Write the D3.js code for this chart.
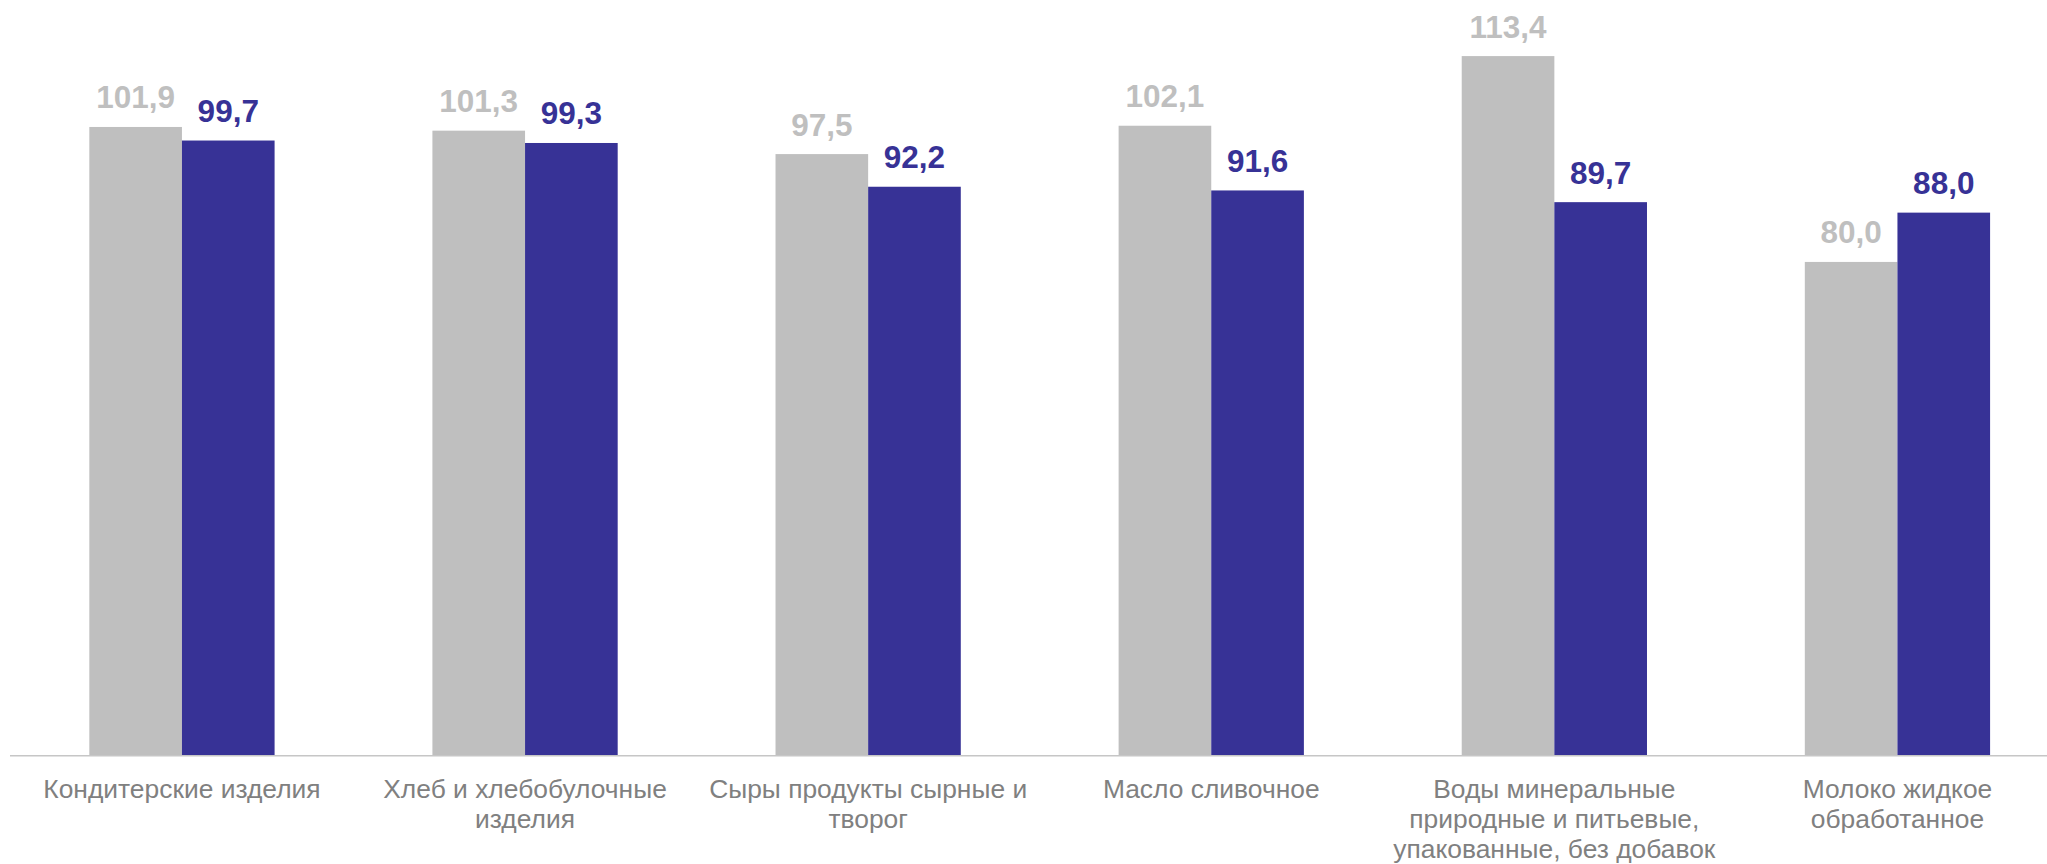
<!DOCTYPE html>
<html>
<head>
<meta charset="utf-8">
<script src="https://cdn.jsdelivr.net/npm/d3@7"></script>
<style>
    body { margin: 0; background: #ffffff; }
    .value-label { font-family: "Liberation Sans", Arial, sans-serif; font-size: 31.5px; font-weight: bold; }
    .category-label { font-family: "Liberation Sans", Arial, sans-serif; font-size: 26.4px; fill: #808080; }
</style>
</head>
<body>
<script>
// Chart data
const categories = [
    "Кондитерские изделия",
    "Хлеб и хлебобулочные изделия",
    "Сыры продукты сырные и творог",
    "Масло сливочное",
    "Воды минеральные природные и питьевые, упакованные, без добавок",
    "Молоко жидкое обработанное"
];

// Category labels split into lines as in the picture
const categoryLines = [
    ["Кондитерские изделия"],
    ["Хлеб и хлебобулочные", "изделия"],
    ["Сыры продукты сырные и", "творог"],
    ["Масло сливочное"],
    ["Воды минеральные", "природные и питьевые,", "упакованные, без добавок"],
    ["Молоко жидкое", "обработанное"]
];

const seriesKeys = ["first", "second"];
const firstValues = [101.9, 101.3, 97.5, 102.1, 113.4, 80.0];
const secondValues = [99.7, 99.3, 92.2, 91.6, 89.7, 88.0];

// Set chart dimensions
const width = 2047;
const height = 864;
const plot = { left: 10.4, right: 2069, top: 0, bottom: 755 };

const data = categories.map((c, i) => ({
    category: c,
    lines: categoryLines[i],
    first: firstValues[i],
    second: secondValues[i]
}));

const svg = d3.select("body")
    .append("svg")
    .attr("width", width)
    .attr("height", height);

// Scales
const xScale = d3.scaleBand()
    .domain(categories)
    .range([plot.left, plot.right])
    .paddingInner(0.46)
    .paddingOuter(0.23);

const xSub = d3.scaleBand()
    .domain(seriesKeys)
    .range([0, xScale.bandwidth()]);

const yScale = d3.scaleLinear()
    .domain([0, 122.5])
    .range([plot.bottom, plot.top]);

const colorScale = d3.scaleOrdinal()
    .domain(seriesKeys)
    .range(["#bfbfbf", "#373296"]);

// Draw bars
const groups = svg.append("g")
    .selectAll("g")
    .data(data)
    .join("g")
    .attr("transform", d => `translate(${xScale(d.category)}, 0)`);

groups.selectAll("rect")
    .data(d => seriesKeys.map(k => ({ key: k, value: d[k] })))
    .join("rect")
    .attr("x", d => xSub(d.key))
    .attr("y", d => yScale(d.value))
    .attr("width", xSub.bandwidth())
    .attr("height", d => yScale(0) - yScale(d.value))
    .attr("fill", d => colorScale(d.key));

// Value labels
const fmt = v => d3.format(".1f")(v).replace(".", ",");

groups.selectAll("text.value-label")
    .data(d => seriesKeys.map(k => ({ key: k, value: d[k] })))
    .join("text")
    .attr("class", "value-label")
    .attr("x", d => xSub(d.key) + xSub.bandwidth() / 2)
    .attr("y", d => yScale(d.value) - 18.5)
    .attr("text-anchor", "middle")
    .attr("fill", d => colorScale(d.key))
    .text(d => fmt(d.value));

// Baseline axis
const bottomAxis = d3.axisBottom(xScale)
    .tickSize(0)
    .tickFormat("");

const axisG = svg.append("g")
    .attr("transform", `translate(0, ${yScale(0) + 0.8})`)
    .call(bottomAxis);

axisG.select(".domain")
    .attr("stroke", "#c6c6c6")
    .attr("stroke-width", 1.6)
    .attr("d", `M10,0H${width}`);

// Category labels
const catText = svg.append("g")
    .selectAll("text")
    .data(data)
    .join("text")
    .attr("class", "category-label")
    .attr("text-anchor", "middle")
    .attr("x", d => xScale(d.category) + xScale.bandwidth() / 2)
    .attr("y", 797.5);

catText.selectAll("tspan")
    .data(d => d.lines)
    .join("tspan")
    .attr("x", function() { return d3.select(this.parentNode).attr("x"); })
    .attr("dy", (d, i) => i === 0 ? 0 : 30)
    .text(d => d);
</script>
</body>
</html>
